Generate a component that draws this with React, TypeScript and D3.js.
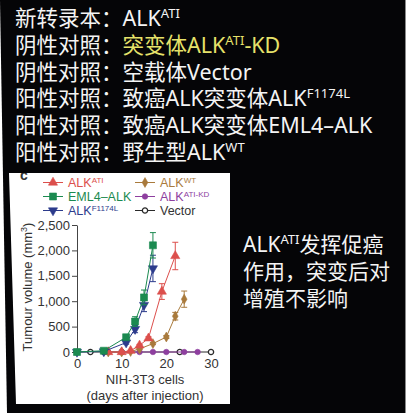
import React, { useEffect, useRef } from 'react'
import * as d3 from 'd3'

// text segments: [text, isSuperscript]
type Seg = [string, boolean]

const HEADER_LINES: Seg[][] = [
  [['新转录本：ALK', false], ['ATI', true]],
  [['阴性对照：', false], ['突变体ALK', false], ['ATI', true], ['-KD', false]],
  [['阴性对照：空载体Vector', false]],
  [['阳性对照：致癌ALK突变体ALK', false], ['F1174L', true]],
  [['阳性对照：致癌ALK突变体EML4–ALK', false]],
  [['阳性对照：野生型ALK', false], ['WT', true]]
]
const HEADER_HIGHLIGHT_LINE = 1

const NOTE_LINES: Seg[][] = [
  [['ALK', false], ['ATI', true], ['发挥促癌', false]],
  [['作用，突变后对', false]],
  [['增殖不影响', false]]
]

const Y_TICKS = [0, 500, 1000, 1500, 2000, 2500]
const X_TICKS = [0, 10, 20, 30]

const VECTOR_DAYS = [0, 3, 6, 10, 23, 30]
const VECTOR_VOL = [0, 0, 0, 0, 0, 0]
const VECTOR_ERR = [0, 0, 0, 0, 0, 0]

const KD_DAYS = [7, 10, 14, 17, 20, 24, 27]
const KD_VOL = [0, 0, 0, 0, 0, 0, 0]
const KD_ERR = [0, 0, 0, 0, 0, 0, 0]

const WT_DAYS = [7, 10, 12, 14, 17, 20, 22, 24]
const WT_VOL = [0, 0, 10, 60, 165, 295, 705, 1040]
const WT_ERR = [0, 0, 0, 10, 20, 30, 75, 160]

const ATI_DAYS = [7, 10, 12, 14, 16, 19, 22]
const ATI_VOL = [0, 0, 25, 130, 270, 1190, 1890]
const ATI_ERR = [0, 0, 0, 20, 30, 155, 270]

const F1174L_DAYS = [0, 6, 11, 13, 15, 17]
const F1174L_VOL = [0, 10, 185, 450, 925, 1645]
const F1174L_ERR = [0, 0, 30, 70, 130, 260]

const EML4_DAYS = [0, 6, 11, 13, 15, 17]
const EML4_VOL = [0, 25, 290, 600, 1075, 2100]
const EML4_ERR = [0, 0, 45, 95, 145, 250]

interface Series {
  label: Seg[]
  days: number[]
  vol: number[]
  err: number[]
  color: string
  symbol: d3.SymbolType
  size: number
  rotate: number
  open: boolean
}

const SERIES: Series[] = [
  { label: [['Vector', false]], days: VECTOR_DAYS, vol: VECTOR_VOL, err: VECTOR_ERR, color: '#2a2a2a', symbol: d3.symbolCircle, size: 22, rotate: 0, open: true },
  { label: [['ALK', false], ['ATI-KD', true]], days: KD_DAYS, vol: KD_VOL, err: KD_ERR, color: '#8e3f9f', symbol: d3.symbolCircle, size: 24, rotate: 0, open: false },
  { label: [['ALK', false], ['WT', true]], days: WT_DAYS, vol: WT_VOL, err: WT_ERR, color: '#a97a3c', symbol: d3.symbolDiamond, size: 28, rotate: 0, open: false },
  { label: [['ALK', false], ['ATI', true]], days: ATI_DAYS, vol: ATI_VOL, err: ATI_ERR, color: '#dc4f4c', symbol: d3.symbolTriangle, size: 36, rotate: 0, open: false },
  { label: [['ALK', false], ['F1174L', true]], days: F1174L_DAYS, vol: F1174L_VOL, err: F1174L_ERR, color: '#2c3b8c', symbol: d3.symbolTriangle, size: 36, rotate: 180, open: false },
  { label: [['EML4–ALK', false]], days: EML4_DAYS, vol: EML4_VOL, err: EML4_ERR, color: '#1b8a50', symbol: d3.symbolSquare, size: 49, rotate: 0, open: false }
]

// legend order: left column then right column
const LEGEND_ORDER = [3, 5, 4, 2, 1, 0]

const writeSegs = (
  text: d3.Selection<any, unknown, null, undefined>,
  segs: Seg[],
  size: number,
  supSize: number,
  rise: number
) => {
  let raised = false
  segs.forEach(([t, sup]) => {
    const span = text.append('tspan').text(t)
    if (sup && !raised) {
      span.attr('dy', -rise).attr('font-size', supSize)
      raised = true
    } else if (!sup && raised) {
      span.attr('dy', rise).attr('font-size', size)
      raised = false
    } else {
      span.attr('font-size', sup ? supSize : size)
    }
  })
}

const App: React.FC = () => {
  const ref = useRef<SVGSVGElement | null>(null)

  useEffect(() => {
    if (!ref.current) {
      return
    }
    const svg = d3.select(ref.current)
    svg.selectAll('*').remove()

    svg.append('rect').attr('width', 420).attr('height', 420).attr('fill', '#ffffff')
    svg.append('polygon').attr('points', '0,0 405,0 405,413 7,413').attr('fill', '#050507')
    svg.append('line').attr('x1', 405.5).attr('x2', 405.5).attr('y1', 0).attr('y2', 413).attr('stroke', '#8a8a8a')

    const cjk = "'Noto Sans', 'Noto Sans CJK SC', sans-serif"

    HEADER_LINES.forEach((line, i) => {
      const t = svg
        .append('text')
        .attr('x', 15)
        .attr('y', 26 + i * 26.8)
        .attr('font-family', cjk)
        .attr('fill', '#f4f4f4')
      if (i === HEADER_HIGHLIGHT_LINE) {
        const [first, ...rest] = line
        t.append('tspan').attr('font-size', 21.5).text(first[0])
        const hl = t.append('tspan').attr('fill', '#e6e26a')
        writeSegs(hl, rest, 21.5, 13, 8)
      } else {
        writeSegs(t, line, 21.5, 13, 8)
      }
    })

    NOTE_LINES.forEach((line, i) => {
      const t = svg
        .append('text')
        .attr('x', 243)
        .attr('y', 252 + i * 27)
        .attr('font-family', cjk)
        .attr('fill', '#f4f4f4')
      writeSegs(t, line, 21, 13, 8)
    })

    // inset figure panel
    const insetPts = '9,173 230,173 230,404 16,404'
    svg.append('clipPath').attr('id', 'inset-clip').append('polygon').attr('points', insetPts)
    svg.append('polygon').attr('points', insetPts).attr('fill', '#ffffff')

    const panel = svg.append('g').attr('clip-path', 'url(#inset-clip)').attr('font-family', "'Liberation Sans', Arial, sans-serif")

    panel.append('text').attr('x', 20).attr('y', 180).attr('font-size', 14).attr('font-weight', 'bold').attr('fill', '#333').text('c')

    const x = d3.scaleLinear().domain([0, 30]).range([77, 211])
    const y = d3.scaleLinear().domain([0, 2500]).range([352, 225])

    const yAxis = panel
      .append('g')
      .attr('transform', `translate(${x(0)},0)`)
      .call(
        d3
          .axisLeft(y)
          .tickValues(Y_TICKS)
          .tickFormat((d) => d3.format(',')(d as number))
          .tickSize(5)
          .tickSizeOuter(0)
          .tickPadding(2)
      )
    yAxis.selectAll('text').attr('font-size', 13).attr('fill', '#333').attr('font-family', "'Liberation Sans', Arial, sans-serif")
    yAxis.selectAll('line, path').attr('stroke', '#444')

    const xAxis = panel
      .append('g')
      .attr('transform', `translate(0,${y(0)})`)
      .call(d3.axisBottom(x).tickValues(X_TICKS).tickSize(0).tickPadding(7))
    xAxis.select('.domain').remove()
    xAxis.selectAll('text').attr('font-size', 13).attr('fill', '#333').attr('font-family', "'Liberation Sans', Arial, sans-serif")

    const yLabel = panel
      .append('text')
      .attr('transform', `translate(32,287) rotate(-90)`)
      .attr('text-anchor', 'middle')
      .attr('font-size', 13)
      .attr('fill', '#333')
    yLabel.append('tspan').text('Tumour volume (mm')
    yLabel.append('tspan').attr('font-size', 9).attr('dy', -5).text('3')
    yLabel.append('tspan').attr('dy', 5).text(')')

    panel.append('text').attr('x', 145).attr('y', 384).attr('text-anchor', 'middle').attr('font-size', 13).attr('fill', '#333').text('NIH-3T3 cells')
    panel.append('text').attr('x', 145).attr('y', 400).attr('text-anchor', 'middle').attr('font-size', 13).attr('fill', '#333').text('(days after injection)')

    SERIES.forEach((s) => {
      const g = panel.append('g')
      const pts = s.days.map((d, i) => [x(d), y(s.vol[i])] as [number, number])
      g.append('path')
        .attr('d', d3.line()(pts))
        .attr('fill', 'none')
        .attr('stroke', s.color)
        .attr('stroke-width', 1)

      s.days.forEach((d, i) => {
        if (s.err[i] <= 0) return
        const cx = x(d)
        const top = y(s.vol[i] + s.err[i])
        const bot = y(Math.max(0, s.vol[i] - s.err[i]))
        g.append('line').attr('x1', cx).attr('x2', cx).attr('y1', top).attr('y2', bot).attr('stroke', s.color).attr('stroke-width', 1)
        g.append('line').attr('x1', cx - 3).attr('x2', cx + 3).attr('y1', top).attr('y2', top).attr('stroke', s.color).attr('stroke-width', 1)
        g.append('line').attr('x1', cx - 3).attr('x2', cx + 3).attr('y1', bot).attr('y2', bot).attr('stroke', s.color).attr('stroke-width', 1)
      })

      const sym = d3.symbol().type(s.symbol).size(s.size)
      g.selectAll('path.mark')
        .data(s.days)
        .enter()
        .append('path')
        .attr('class', 'mark')
        .attr('d', sym() as string)
        .attr('transform', (d, i) => `translate(${x(d)},${y(s.vol[i])}) rotate(${s.rotate})`)
        .attr('fill', s.open ? '#ffffff' : s.color)
        .attr('stroke', s.color)
        .attr('stroke-width', s.open ? 1.3 : 0.6)
    })

    // legend
    const legendRows = [182.5, 196.5, 210.5]
    const legendCols = [53, 145]
    LEGEND_ORDER.forEach((idx, k) => {
      const s = SERIES[idx]
      const cx = legendCols[Math.floor(k / 3)]
      const cy = legendRows[k % 3]
      const g = panel.append('g')
      g.append('line').attr('x1', cx - 10).attr('x2', cx + 10).attr('y1', cy).attr('y2', cy).attr('stroke', s.color).attr('stroke-width', 1.2)
      g.append('path')
        .attr('d', d3.symbol().type(s.symbol).size(s.size)() as string)
        .attr('transform', `translate(${cx},${cy}) rotate(${s.rotate})`)
        .attr('fill', s.open ? '#ffffff' : s.color)
        .attr('stroke', s.color)
        .attr('stroke-width', s.open ? 1.3 : 0.6)
      const t = g
        .append('text')
        .attr('x', cx + 15)
        .attr('y', cy + 4.5)
        .attr('fill', s.color === '#2a2a2a' ? '#333' : s.color)
      writeSegs(t, s.label, 12.5, 8, 4)
    })
  }, [])

  return (
    <svg
      ref={ref}
      width={420}
      height={420}
      style={{ position: 'absolute', left: 0, top: 0 }}
      role="img"
      aria-label="ALK tumour volume chart"
    />
  )
}

export default App
